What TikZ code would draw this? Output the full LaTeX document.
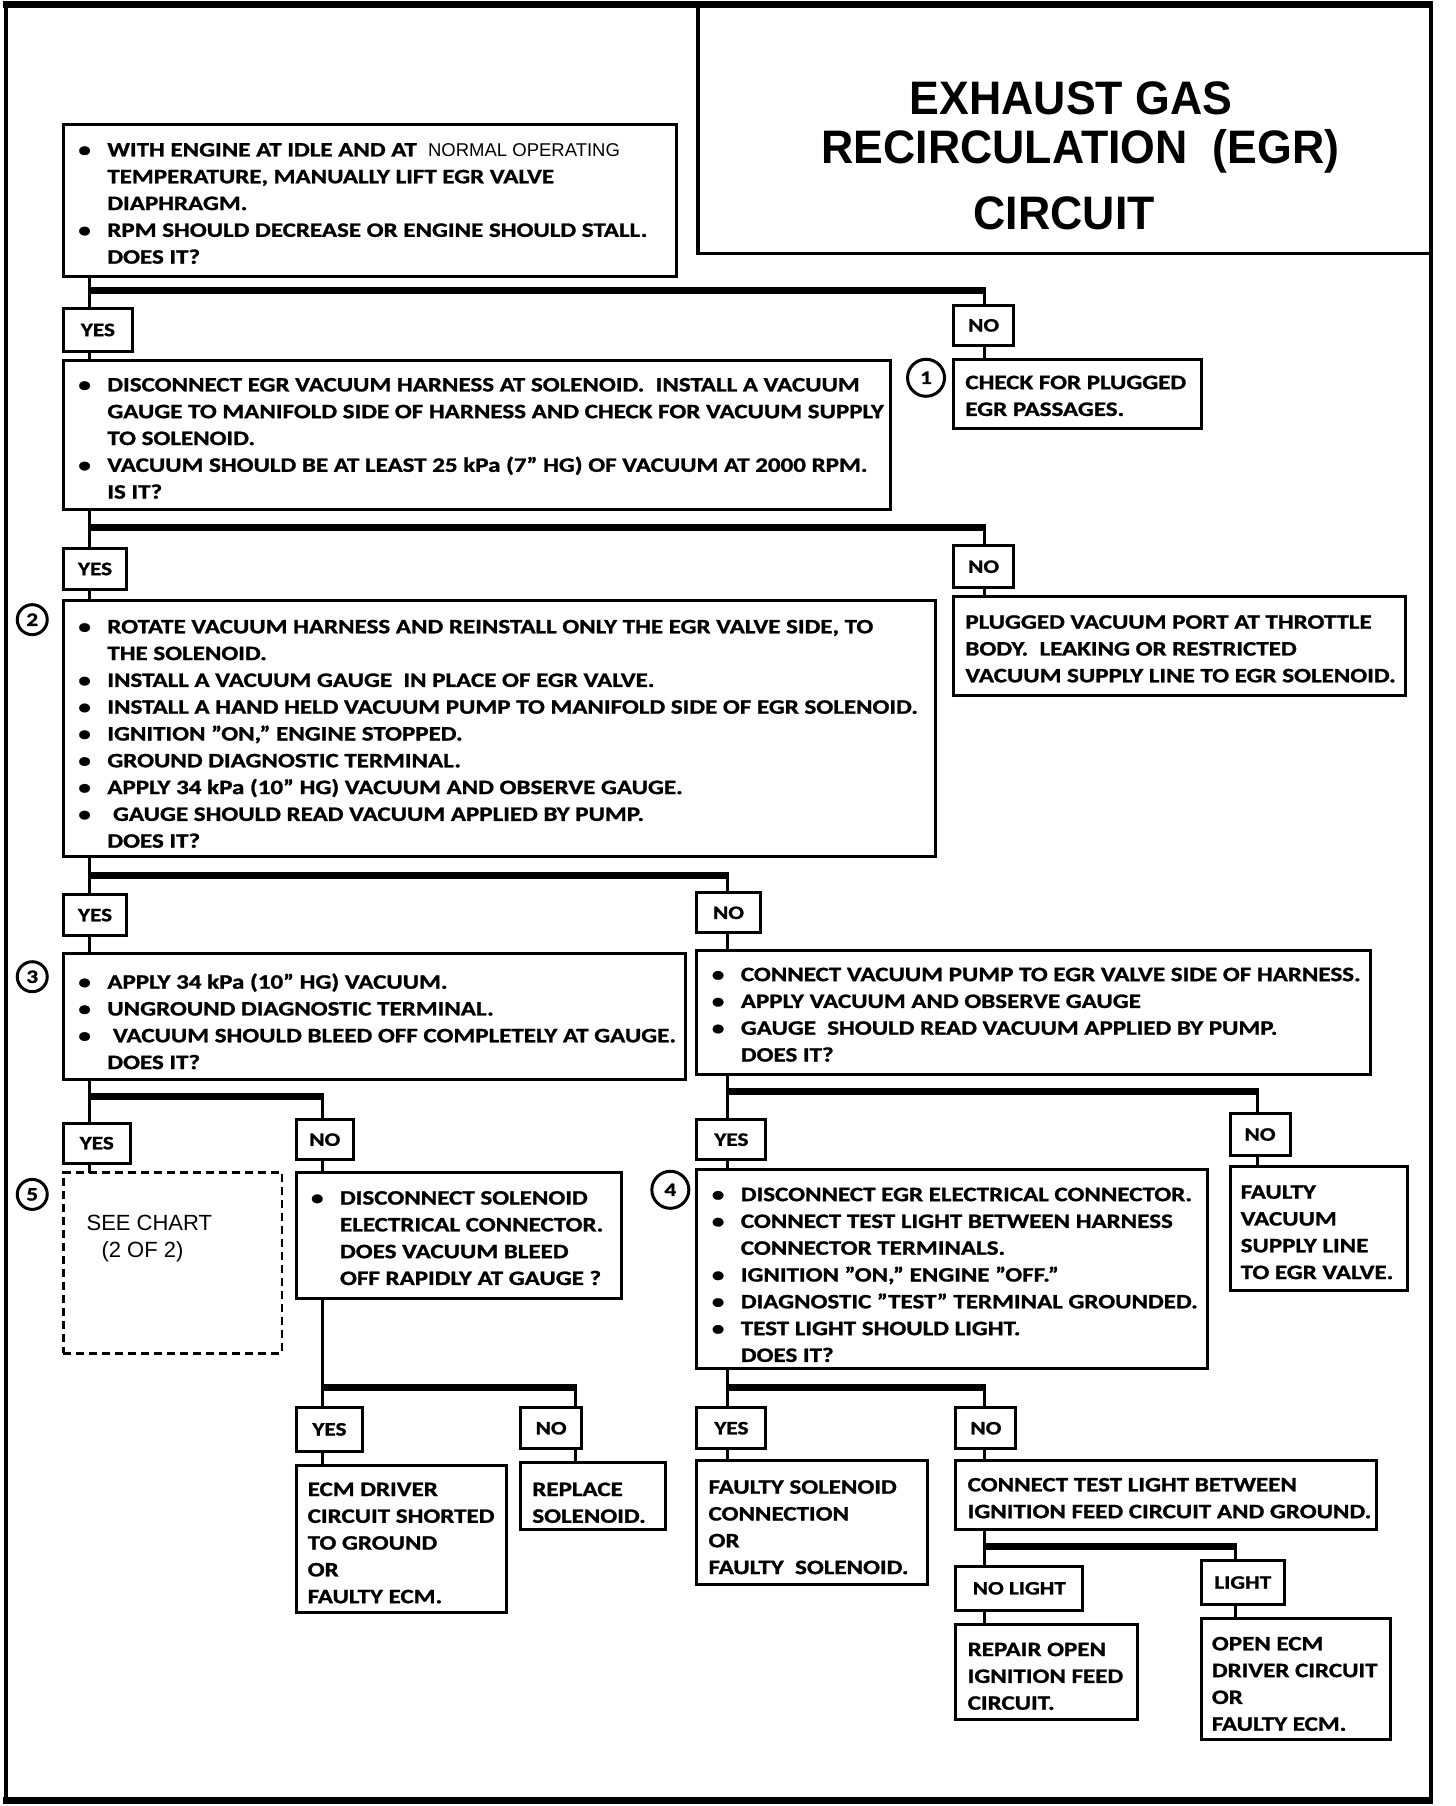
\documentclass[tikz,border=0pt]{standalone}
\usepackage{fontspec}
\setmainfont{Carlito}[FakeStretch=1.22, BoldFeatures={FakeBold=1.2}]
\newfontfamily\titlefont[FakeStretch=0.95]{Liberation Sans}
\newfontfamily\plainsans{Liberation Sans}
\newcommand\bl[1]{\makebox[30pt][l]{\hspace{1pt}\textbullet}#1}
\newcommand\cl[1]{\hspace*{30pt}#1}
\tikzset{
 box/.style={draw, line width=3pt, anchor=north west, inner sep=0pt, outer sep=0pt},
 dbox/.style={draw, line width=2.5pt, dash pattern=on 8pt off 5pt, anchor=north west, inner sep=0pt, outer sep=0pt},
 lbl/.style={draw, line width=3pt, anchor=north west, inner sep=0pt, outer sep=0pt, font=\fontsize{19}{22}\selectfont\bfseries},
 txt/.style={anchor=north west, inner sep=0pt, align=left, font=\fontsize{20.5}{26.8}\selectfont\bfseries},
 conn/.style={line width=3pt},
 bar/.style={line width=7pt},
 num/.style={circle, draw, line width=3pt, inner sep=0pt, font=\fontsize{19}{19}\selectfont\bfseries},
 ttl/.style={inner sep=0pt, font=\titlefont\fontsize{47}{50}\selectfont\bfseries},
}
\newcommand\bx[6]{\node[#6, minimum width={(#4-#2)*1.1519pt}, minimum height={(#5-#3)*1.1519pt}] (#1) at (#2,#3) {};}
\newcommand\lb[6]{\node[lbl, minimum width={(#4-#2)*1.1519pt}, minimum height={(#5-#3)*1.1519pt}] (#1) at (#2,#3) {#6};}
\newcommand\branch[8]{%
 \coordinate (#1l) at (#2,#4);
 \coordinate (#1r) at (#3,#4);
 \draw[conn] (#5.south -| #1l) -- (#6.north -| #1l);
 \draw[bar] (#1l) -- ($(#1r)+(1.3,0)$);
 \draw[conn] ($(#1r)+(0,-3)$) -- (#7.north -| #1r);
}
\usetikzlibrary{calc}
\begin{document}
\begin{tikzpicture}[x=1.1519pt,y=-1.1519pt]
\useasboundingbox (0,0) rectangle (1264,1568);
% frame
\draw[line width=4pt] (5,4) -- (5,1564);
\draw[line width=4pt] (1242,4) -- (1242,1564);
\draw[line width=7pt] (3,4) -- (1244,4);
\draw[line width=7pt] (3,1563) -- (1244,1563);
% title box
\coordinate (tbl) at (606,4);
\coordinate (tbc) at (606,220);
\coordinate (tbr) at (1242,220);
\draw[line width=3.5pt] (tbl) -- (tbc) -- (tbr);
\node[ttl] (t1) at (930,85) {EXHAUST GAS};
\node[ttl] (t2) at (938,131) {RECIRCULATION\ \ (EGR)};
\node[ttl] (t3) at (924,185) {CIRCUIT};

% boxes
\bx{A}{55}{108}{587}{240}{box}
\bx{B}{55}{313}{773}{442}{box}
\bx{C}{828}{312}{1043}{372}{box}
\bx{D}{55}{521}{812}{744}{box}
\bx{E}{828}{518}{1220}{604}{box}
\bx{F}{55}{828}{595}{937}{box}
\bx{G}{605}{825}{1190}{933}{box}
\bx{H}{55}{1018}{245}{1175}{dbox}
\bx{I}{257}{1018}{540}{1127}{box}
\bx{J}{257}{1272}{440}{1400}{box}
\bx{K}{452}{1270}{578}{1328}{box}
\bx{L}{605}{1015}{1048}{1188}{box}
\bx{M}{1068}{1013}{1222}{1120}{box}
\bx{N}{605}{1268}{805}{1376}{box}
\bx{O}{830}{1268}{1195}{1328}{box}
\bx{P}{830}{1410}{988}{1493}{box}
\bx{Q}{1043}{1405}{1207}{1510}{box}

% labels
\lb{y1}{55}{268}{115}{305}{YES}
\lb{n1}{828}{265}{880}{300}{NO}
\lb{y2}{55}{476}{110}{512}{YES}
\lb{n2}{828}{474}{880}{510}{NO}
\lb{y3}{55}{777}{110}{812}{YES}
\lb{n3}{605}{775}{660}{810}{NO}
\lb{y4}{55}{975}{113}{1010}{YES}
\lb{n4}{257}{972}{307}{1007}{NO}
\lb{y5}{257}{1222}{315}{1260}{YES}
\lb{n5}{452}{1222}{505}{1258}{NO}
\lb{y6}{605}{972}{665}{1007}{YES}
\lb{n6}{1068}{967}{1120}{1003}{NO}
\lb{y7}{605}{1222}{665}{1258}{YES}
\lb{n7}{830}{1222}{882}{1258}{NO}
\lb{nl}{830}{1360}{940}{1398}{NO LIGHT}
\lb{lt}{1043}{1355}{1115}{1393}{LIGHT}

% branches
\branch{b1}{78}{855}{252}{A}{y1}{n1}{}
\draw[conn] (y1.south -| b1l) -- (B.north -| b1l);
\draw[conn] (n1.south -| b1r) -- (C.north -| b1r);
\branch{b2}{78}{855}{458}{B}{y2}{n2}{}
\draw[conn] (y2.south -| b2l) -- (D.north -| b2l);
\draw[conn] (n2.south -| b2r) -- (E.north -| b2r);
\branch{b3}{78}{632}{760}{D}{y3}{n3}{}
\draw[conn] (y3.south -| b3l) -- (F.north -| b3l);
\draw[conn] (n3.south -| b3r) -- (G.north -| b3r);
\branch{b4}{78}{280}{952}{F}{y4}{n4}{}
\draw[conn] (y4.south -| b4l) -- (H.north -| b4l);
\draw[conn] (n4.south -| b4r) -- (I.north -| b4r);
\branch{b5}{280}{500}{1205}{I}{y5}{n5}{}
\draw[conn] (y5.south -| b5l) -- (J.north -| b5l);
\draw[conn] (n5.south -| b5r) -- (K.north -| b5r);
\branch{b6}{632}{1092}{948}{G}{y6}{n6}{}
\draw[conn] (y6.south -| b6l) -- (L.north -| b6l);
\draw[conn] (n6.south -| b6r) -- (M.north -| b6r);
\branch{b7}{632}{855}{1205}{L}{y7}{n7}{}
\draw[conn] (y7.south -| b7l) -- (N.north -| b7l);
\draw[conn] (n7.south -| b7r) -- (O.north -| b7r);
\branch{b8}{855}{1073}{1343}{O}{nl}{lt}{}
\draw[conn] (nl.south -| b8l) -- (P.north -| b8l);
\draw[conn] (lt.south -| b8r) -- (Q.north -| b8r);

% numbered circles
\node[num, minimum size=37pt] (c1) at (804,328) {1};
\node[num, minimum size=30pt] (c2) at (28,538) {2};
\node[num, minimum size=30pt] (c3) at (28,848) {3};
\node[num, minimum size=30pt] (c5) at (28,1037) {5};
\node[num, minimum size=37pt] (c4) at (582,1033) {4};

% texts
\node[txt] (At) at (67,124) {\bl{WITH ENGINE AT IDLE AND AT \ {\plainsans\mdseries\fontsize{18.5}{26.8}\selectfont NORMAL OPERATING}}\\
\cl{TEMPERATURE, MANUALLY LIFT EGR VALVE}\\
\cl{DIAPHRAGM.}\\
\bl{RPM SHOULD DECREASE OR ENGINE SHOULD STALL.}\\
\cl{DOES IT?}};
\node[txt] (Bt) at (67,328) {\bl{DISCONNECT EGR VACUUM HARNESS AT SOLENOID.\ \ INSTALL A VACUUM}\\
\cl{GAUGE TO MANIFOLD SIDE OF HARNESS AND CHECK FOR VACUUM SUPPLY}\\
\cl{TO SOLENOID.}\\
\bl{VACUUM SHOULD BE AT LEAST 25 kPa (7" HG) OF VACUUM AT 2000 RPM.}\\
\cl{IS IT?}};
\node[txt] (Ct) at (838,326) {CHECK FOR PLUGGED\\EGR PASSAGES.};
\node[txt] (Dt) at (67,538) {\bl{ROTATE VACUUM HARNESS AND REINSTALL ONLY THE EGR VALVE SIDE, TO}\\
\cl{THE SOLENOID.}\\
\bl{INSTALL A VACUUM GAUGE\ \ IN PLACE OF EGR VALVE.}\\
\bl{INSTALL A HAND HELD VACUUM PUMP TO MANIFOLD SIDE OF EGR SOLENOID.}\\
\bl{IGNITION "ON," ENGINE STOPPED.}\\
\bl{GROUND DIAGNOSTIC TERMINAL.}\\
\bl{APPLY 34 kPa (10" HG) VACUUM AND OBSERVE GAUGE.}\\
\bl{\ GAUGE SHOULD READ VACUUM APPLIED BY PUMP.}\\
\cl{DOES IT?}};
\node[txt] (Et) at (838,534) {PLUGGED VACUUM PORT AT THROTTLE\\BODY.\ \ LEAKING OR RESTRICTED\\VACUUM SUPPLY LINE TO EGR SOLENOID.};
\node[txt] (Ft) at (67,845) {\bl{APPLY 34 kPa (10" HG) VACUUM.}\\
\bl{UNGROUND DIAGNOSTIC TERMINAL.}\\
\bl{\ VACUUM SHOULD BLEED OFF COMPLETELY AT GAUGE.}\\
\cl{DOES IT?}};
\node[txt] (Gt) at (617,840) {\bl{CONNECT VACUUM PUMP TO EGR VALVE SIDE OF HARNESS.}\\
\bl{APPLY VACUUM AND OBSERVE GAUGE}\\
\bl{GAUGE\ \ SHOULD READ VACUUM APPLIED BY PUMP.}\\
\cl{DOES IT?}};
\node[anchor=west, inner sep=0pt, font=\plainsans\fontsize{22}{24}\selectfont] (Ht1) at (75,1062) {SEE CHART};
\node[anchor=west, inner sep=0pt, font=\plainsans\fontsize{22}{24}\selectfont] (Ht2) at (88,1087) {(2 OF 2)};
\node[txt] (It) at (269,1034) {\bl{DISCONNECT SOLENOID}\\\cl{ELECTRICAL CONNECTOR.}\\\cl{DOES VACUUM BLEED}\\\cl{OFF RAPIDLY AT GAUGE ?}};
\node[txt] (Jt) at (267,1287) {ECM DRIVER\\CIRCUIT SHORTED\\TO GROUND\\OR\\FAULTY ECM.};
\node[txt] (Kt) at (462,1287) {REPLACE\\SOLENOID.};
\node[txt] (Lt) at (617,1031) {\bl{DISCONNECT EGR ELECTRICAL CONNECTOR.}\\
\bl{CONNECT TEST LIGHT BETWEEN HARNESS}\\
\cl{CONNECTOR TERMINALS.}\\
\bl{IGNITION "ON," ENGINE "OFF."}\\
\bl{DIAGNOSTIC "TEST" TERMINAL GROUNDED.}\\
\bl{TEST LIGHT SHOULD LIGHT.}\\
\cl{DOES IT?}};
\node[txt] (Mt) at (1077,1029) {FAULTY\\VACUUM\\SUPPLY LINE\\TO EGR VALVE.};
\node[txt] (Nt) at (615,1285) {FAULTY SOLENOID\\CONNECTION\\OR\\FAULTY\ \ SOLENOID.};
\node[txt] (Ot) at (840,1283) {CONNECT TEST LIGHT BETWEEN\\IGNITION FEED CIRCUIT AND GROUND.};
\node[txt] (Pt) at (840,1426) {REPAIR OPEN\\IGNITION FEED\\CIRCUIT.};
\node[txt] (Qt) at (1052,1421) {OPEN ECM\\DRIVER CIRCUIT\\OR\\FAULTY ECM.};
\end{tikzpicture}
\end{document}
